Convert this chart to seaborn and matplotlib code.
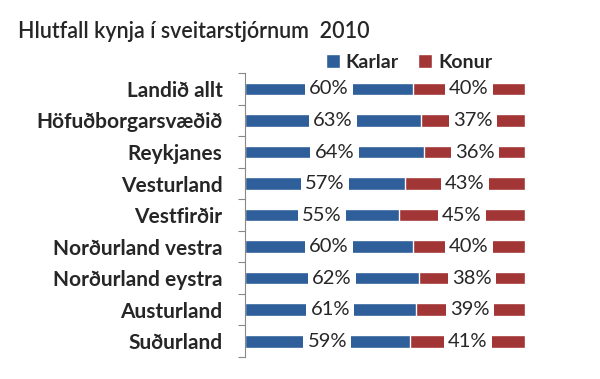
import pandas as pd
import seaborn as sns
import matplotlib.pyplot as plt

# Hlutfall kynja í sveitarstjórnum 2010
svaedi = ['Landið allt', 'Höfuðborgarsvæðið', 'Reykjanes', 'Vesturland', 'Vestfirðir',
          'Norðurland vestra', 'Norðurland eystra', 'Austurland', 'Suðurland']
karlar = [60, 63, 64, 57, 55, 60, 62, 61, 59]
konur = [40, 37, 36, 43, 45, 40, 38, 39, 41]

blar = '#2E5F9A'
raudur = '#A23535'

sns.set_style('white')
plt.rcParams['font.family'] = ['Lato', 'DejaVu Sans']

dados = pd.DataFrame({'svaedi': svaedi, 'karlar': karlar, 'konur': konur})
dados['samtals'] = dados['karlar'] + dados['konur']

fig = plt.figure(figsize=(6, 3.79), dpi=100)
ax = fig.add_axes([0.408, 0.058, 0.467, 0.749])

sns.barplot(data=dados, x='samtals', y='svaedi', color=raudur, width=0.4,
            saturation=1, ax=ax, label='Konur')
sns.barplot(data=dados, x='karlar', y='svaedi', color=blar, width=0.4,
            saturation=1, ax=ax, label='Karlar')

# prósentur ofan á súlunum
for i, (k, f) in enumerate(zip(karlar, konur)):
    for x, v in [(k / 2, k), (k + f / 2, f)]:
        ax.text(x, i, f'{v}%', ha='center', va='center', fontsize=14.5,
                bbox=dict(facecolor='white', edgecolor='none', pad=3))

ax.set_xlim(0, 100)
ax.set_ylim(8.5, -0.5)
ax.set_xlabel('')
ax.set_ylabel('')
ax.set_xticks([])
ax.set_yticks([i - 0.5 for i in range(10)], minor=False)
ax.set_yticklabels([])
ax.set_yticks(range(9), minor=True)
ax.set_yticklabels(svaedi, minor=True, fontsize=15, fontweight='bold')
ax.tick_params(axis='y', which='major', length=5, width=0.8, color='#888888', left=True)
ax.tick_params(axis='y', which='minor', length=0, pad=16)
for s in ['top', 'right', 'bottom']:
    ax.spines[s].set_visible(False)
ax.spines['left'].set_color('#888888')
ax.spines['left'].set_linewidth(0.8)

handles, labels = ax.get_legend_handles_labels()
ax.legend(handles[::-1], labels[::-1], loc='lower right', bbox_to_anchor=(0.91, 0.98),
          ncol=2, frameon=False, handlelength=0.7, handleheight=0.7, handletextpad=0.3,
          columnspacing=1.0, prop={'weight': 'bold', 'size': 14}, borderaxespad=0.0)

fig.text(0.03, 0.9, 'Hlutfall kynja í sveitarstjórnum  2010', fontsize=15.5,
         fontweight='semibold')

plt.savefig('out.png', dpi=100)
